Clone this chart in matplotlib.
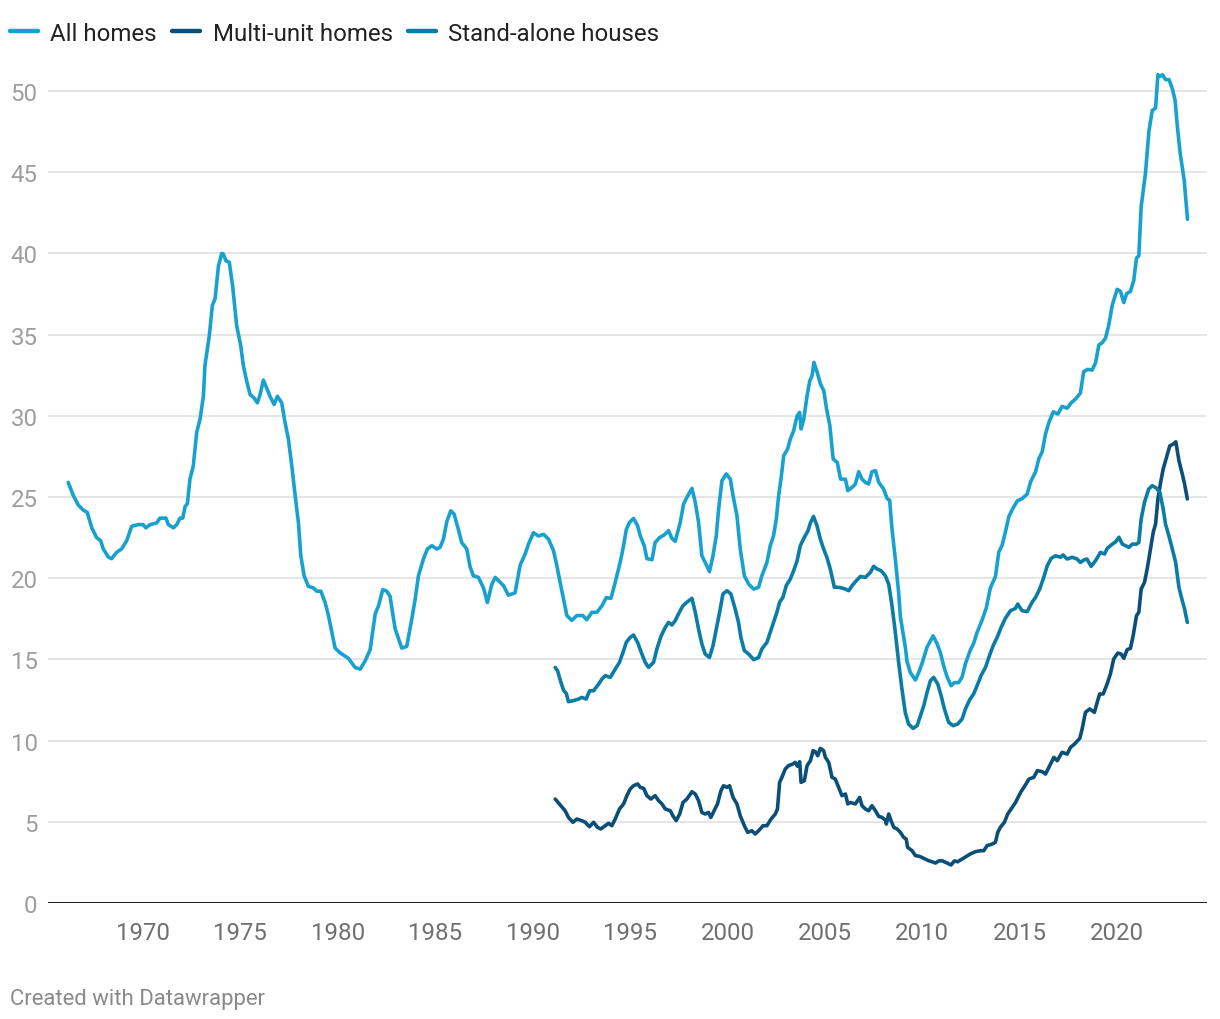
import matplotlib
matplotlib.use("Agg")
import matplotlib.pyplot as plt
from matplotlib.lines import Line2D

# ---------------- data ----------------
all_years = [1966.16,1966.42,1966.68,1966.93,1967.14,1967.37,1967.62,1967.83,1967.96,1968.22,1968.39,1968.65,1968.9,
 1969.16,1969.42,1969.76,1970.0,1970.15,1970.36,1970.7,1970.87,1971.18,1971.3,1971.56,1971.73,1971.9,1972.04,1972.16,
 1972.28,1972.41,1972.58,1972.76,1972.93,1973.1,1973.18,1973.4,1973.56,1973.7,1973.87,1974.04,1974.12,1974.26,1974.43,
 1974.6,1974.81,1975.02,1975.15,1975.33,1975.5,1975.7,1975.87,1976.01,1976.18,1976.35,1976.52,1976.73,1976.9,1977.12,
 1977.29,1977.46,1977.64,1977.81,1977.98,1978.1,1978.27,1978.49,1978.75,1978.92,1979.13,1979.35,1979.52,1979.69,1979.86,
 1980.12,1980.29,1980.54,1980.89,1981.15,1981.4,1981.66,1981.92,1982.09,1982.31,1982.51,1982.68,1982.94,1983.11,1983.28,
 1983.54,1983.8,1983.97,1984.14,1984.4,1984.6,1984.83,1985.08,1985.25,1985.42,1985.6,1985.8,1985.97,1986.19,1986.36,
 1986.62,1986.79,1986.96,1987.22,1987.48,1987.68,1987.9,1988.08,1988.33,1988.5,1988.76,1989.1,1989.36,1989.62,1989.79,
 1990.04,1990.3,1990.56,1990.82,1991.07,1991.24,1991.42,1991.59,1991.76,1992.01,1992.27,1992.58,1992.78,1993.04,1993.3,
 1993.56,1993.78,1994.02,1994.24,1994.5,1994.67,1994.81,1994.98,1995.18,1995.39,1995.53,1995.73,1995.87,1996.13,1996.29,
 1996.52,1996.75,1996.98,1997.15,1997.32,1997.58,1997.75,1997.92,1998.18,1998.35,1998.52,1998.69,1998.86,1999.08,1999.26,
 1999.43,1999.55,1999.72,1999.94,2000.15,2000.29,2000.49,2000.66,2000.87,2001.09,2001.35,2001.6,2001.77,2002.03,2002.2,
 2002.37,2002.51,2002.63,2002.75,2002.89,2003.09,2003.23,2003.4,2003.58,2003.71,2003.78,2003.92,2004.09,2004.23,2004.35,
 2004.44,2004.61,2004.78,2004.95,2005.09,2005.26,2005.43,2005.64,2005.81,2006.06,2006.18,2006.41,2006.57,2006.74,2006.91,
 2007.08,2007.25,2007.42,2007.6,2007.77,2008.02,2008.2,2008.33,2008.45,2008.62,2008.79,2008.88,2009.14,2009.22,2009.39,
 2009.65,2009.82,2009.99,2010.25,2010.56,2010.76,2010.93,2011.1,2011.28,2011.48,2011.65,2011.87,2012.05,2012.22,2012.47,
 2012.64,2012.82,2013.07,2013.29,2013.5,2013.76,2013.93,2014.1,2014.27,2014.45,2014.62,2014.88,2015.13,2015.39,2015.56,
 2015.82,2015.99,2016.16,2016.33,2016.5,2016.73,2016.96,2017.18,2017.44,2017.65,2017.86,2018.12,2018.29,2018.5,2018.72,
 2018.9,2019.07,2019.24,2019.41,2019.58,2019.76,2020.01,2020.18,2020.35,2020.49,2020.69,2020.86,2021.0,2021.12,2021.24,
 2021.46,2021.64,2021.81,2021.98,2022.1,2022.2,2022.33,2022.5,2022.67,2022.85,2022.98,2023.1,2023.24,2023.45,2023.62]
all_values = [25.9,25.1,24.5,24.2,24.05,23.1,22.5,22.3,21.8,21.3,21.2,21.6,21.8,
 22.3,23.2,23.3,23.3,23.1,23.3,23.4,23.7,23.7,23.3,23.1,23.3,23.7,23.7,24.4,
 24.6,26.1,26.9,29.0,29.8,31.2,33.1,34.9,36.8,37.2,39.2,40.0,39.96,39.55,39.45,
 38.0,35.55,34.3,33.1,32.1,31.3,31.1,30.8,31.3,32.2,31.7,31.2,30.7,31.2,30.8,
 29.6,28.6,26.9,25.1,23.4,21.4,20.15,19.5,19.4,19.2,19.2,18.5,17.7,16.7,15.7,
 15.4,15.27,15.07,14.5,14.4,14.9,15.6,17.8,18.3,19.3,19.2,18.9,16.9,16.3,15.7,
 15.8,17.5,18.7,20.15,21.2,21.8,22.0,21.8,21.9,22.4,23.5,24.15,23.95,23.0,22.2,
 21.8,20.7,20.15,20.05,19.4,18.5,19.6,20.05,19.75,19.55,18.95,19.1,20.8,21.5,22.1,
 22.8,22.6,22.7,22.4,21.7,20.8,19.7,18.7,17.7,17.4,17.7,17.7,17.44,17.9,17.9,
 18.3,18.8,18.76,19.74,21.0,22.0,23.0,23.44,23.68,23.23,22.6,22.0,21.2,21.14,22.2,
 22.5,22.66,22.93,22.45,22.27,23.44,24.56,24.98,25.53,24.67,23.44,21.38,20.97,20.4,21.38,
 22.62,24.26,26.0,26.42,26.1,25.08,23.85,21.8,20.15,19.64,19.33,19.44,20.15,20.97,22.0,
 22.62,23.64,25.08,26.1,27.54,27.95,28.57,29.08,30.0,30.21,29.19,29.8,31.23,32.16,32.47,
 33.29,32.67,31.95,31.54,30.42,29.39,27.34,27.13,26.1,26.1,25.39,25.6,25.8,26.56,26.1,
 25.9,25.8,26.56,26.62,25.9,25.49,24.9,24.8,23.03,21.18,19.13,17.63,15.7,14.88,14.19,
 13.73,14.19,14.74,15.76,16.45,15.98,15.43,14.61,13.92,13.38,13.57,13.57,13.92,14.74,15.57,
 15.98,16.67,17.41,18.17,19.41,20.1,21.6,22.02,22.84,23.8,24.22,24.76,24.9,25.18,25.92,
 26.55,27.37,27.78,28.88,29.57,30.25,30.11,30.58,30.47,30.8,31.02,31.4,32.72,32.86,32.81,
 33.27,34.37,34.5,34.78,35.6,36.83,37.79,37.66,36.97,37.52,37.66,38.34,39.71,39.85,42.87,
 44.92,47.52,48.8,48.96,51.0,50.9,51.0,50.7,50.7,50.1,49.45,47.8,46.2,44.5,42.1]

multi_years = [1991.16,1991.42,1991.67,1991.84,1992.07,1992.27,1992.53,1992.7,1992.92,1993.13,1993.33,1993.5,1993.73,
 1993.9,1994.07,1994.24,1994.46,1994.67,1994.84,1995.01,1995.18,1995.39,1995.53,1995.7,1995.87,1996.07,1996.29,1996.47,
 1996.64,1996.81,1997.07,1997.2,1997.37,1997.55,1997.72,1997.92,1998.18,1998.35,1998.52,1998.69,1998.86,1999.03,1999.15,
 1999.32,1999.49,1999.67,1999.8,1999.98,2000.11,2000.29,2000.49,2000.66,2000.87,2001.04,2001.26,2001.43,2001.6,2001.83,
 2002.03,2002.24,2002.46,2002.57,2002.68,2002.8,2002.97,2003.14,2003.36,2003.48,2003.6,2003.71,2003.78,2003.95,2004.09,
 2004.26,2004.4,2004.52,2004.64,2004.77,2004.94,2005.03,2005.2,2005.37,2005.54,2005.71,2005.88,2006.06,2006.18,2006.31,
 2006.57,2006.79,2006.91,2007.08,2007.25,2007.42,2007.6,2007.77,2007.94,2008.11,2008.16,2008.28,2008.4,2008.54,2008.71,
 2008.88,2009.05,2009.18,2009.25,2009.48,2009.65,2009.87,2010.08,2010.34,2010.51,2010.68,2010.85,2011.02,2011.28,2011.48,
 2011.65,2011.82,2012.05,2012.27,2012.47,2012.73,2012.99,2013.16,2013.33,2013.59,2013.76,2013.88,2014.01,2014.22,2014.39,
 2014.62,2014.79,2015.05,2015.22,2015.48,2015.73,2015.91,2016.16,2016.33,2016.5,2016.76,2016.93,2017.18,2017.44,2017.61,
 2017.82,2018.09,2018.21,2018.38,2018.6,2018.84,2018.98,2019.11,2019.29,2019.49,2019.66,2019.83,2020.04,2020.21,2020.35,
 2020.52,2020.69,2020.83,2021.0,2021.12,2021.24,2021.41,2021.55,2021.69,2021.86,2021.98,2022.1,2022.24,2022.37,2022.54,
 2022.71,2022.89,2023.02,2023.18,2023.35,2023.47,2023.61]
multi_values = [6.4,6.03,5.68,5.27,4.97,5.17,5.07,4.97,4.7,4.97,4.66,4.56,4.76,
 4.91,4.76,5.17,5.79,6.1,6.61,7.02,7.22,7.33,7.12,7.06,6.61,6.4,6.61,6.3,
 6.1,5.79,5.68,5.37,5.07,5.48,6.19,6.4,6.85,6.71,6.3,5.58,5.48,5.58,5.27,
 5.68,6.1,6.92,7.22,7.12,7.22,6.5,6.1,5.37,4.76,4.35,4.45,4.25,4.45,4.76,
 4.76,5.17,5.48,5.79,7.43,7.74,8.25,8.46,8.56,8.66,8.42,8.7,7.43,7.53,8.46,
 8.76,9.38,9.31,9.07,9.52,9.38,8.97,8.66,7.74,7.63,7.12,6.61,6.71,6.1,6.19,
 6.1,6.5,5.99,5.79,5.68,5.99,5.68,5.33,5.27,5.1,4.86,5.48,5.07,4.66,4.56,
 4.35,4.04,3.94,3.43,3.22,2.92,2.87,2.75,2.6,2.54,2.46,2.59,2.6,2.46,2.34,
 2.59,2.54,2.71,2.87,3.02,3.16,3.22,3.22,3.53,3.63,3.74,4.35,4.66,4.97,5.48,
 5.89,6.19,6.81,7.12,7.63,7.74,8.15,8.09,7.94,8.35,8.97,8.76,9.28,9.17,9.58,
 9.79,10.14,10.71,11.74,11.95,11.74,12.35,12.87,12.87,13.48,14.1,15.02,15.39,15.33,15.07,
 15.6,15.68,16.46,17.69,17.9,19.33,19.74,20.57,21.59,22.83,23.33,24.88,25.9,26.72,27.44,
 28.15,28.26,28.4,27.23,26.42,25.8,24.88]

stand_years = [1991.16,1991.28,1991.45,1991.59,1991.73,1991.84,1992.1,1992.36,1992.53,1992.75,1992.93,1993.13,1993.39,
 1993.56,1993.73,1993.99,1994.24,1994.46,1994.64,1994.81,1995.01,1995.18,1995.39,1995.61,1995.78,1995.95,1996.21,1996.38,
 1996.59,1996.81,1996.98,1997.15,1997.32,1997.49,1997.72,1997.92,1998.18,1998.35,1998.52,1998.69,1998.86,1999.08,1999.26,
 1999.43,1999.6,1999.77,1999.98,2000.18,2000.4,2000.57,2000.69,2000.87,2001.09,2001.35,2001.6,2001.77,2002.03,2002.2,
 2002.37,2002.54,2002.68,2002.85,2003.02,2003.23,2003.4,2003.58,2003.74,2003.95,2004.14,2004.26,2004.42,2004.6,2004.77,
 2004.94,2005.11,2005.28,2005.49,2005.71,2005.97,2006.23,2006.4,2006.62,2006.83,2007.08,2007.34,2007.51,2007.68,2007.89,
 2008.11,2008.28,2008.45,2008.62,2008.79,2008.96,2009.13,2009.3,2009.53,2009.74,2009.91,2010.08,2010.25,2010.42,2010.59,
 2010.8,2010.97,2011.14,2011.36,2011.59,2011.82,2012.05,2012.22,2012.44,2012.64,2012.85,2013.02,2013.25,2013.42,2013.64,
 2013.85,2014.05,2014.27,2014.53,2014.79,2014.9,2015.13,2015.39,2015.64,2015.82,2016.03,2016.24,2016.42,2016.62,2016.84,
 2017.1,2017.23,2017.44,2017.7,2017.95,2018.12,2018.33,2018.46,2018.67,2018.9,2019.15,2019.36,2019.5,2019.76,2019.93,
 2020.1,2020.27,2020.44,2020.61,2020.79,2021.0,2021.12,2021.24,2021.41,2021.63,2021.81,2022.03,2022.2,2022.37,2022.49,
 2022.66,2022.84,2023.01,2023.18,2023.35,2023.47,2023.61]
stand_values = [14.5,14.3,13.6,13.1,12.9,12.4,12.46,12.56,12.66,12.56,13.07,13.07,13.48,
 13.79,14.0,13.89,14.4,14.82,15.43,16.05,16.36,16.5,16.05,15.33,14.82,14.51,14.82,15.64,
 16.42,16.97,17.28,17.12,17.38,17.8,18.31,18.52,18.76,17.9,16.87,15.95,15.33,15.12,15.84,
 16.87,17.9,19.03,19.23,19.03,18.1,17.28,16.36,15.54,15.33,14.98,15.12,15.64,16.05,16.67,
 17.28,17.9,18.52,18.82,19.54,19.95,20.46,21.08,22.0,22.52,22.93,23.4,23.8,23.23,22.41,
 21.8,21.28,20.57,19.44,19.44,19.37,19.23,19.54,19.85,20.11,20.05,20.36,20.73,20.57,20.46,
 20.15,19.64,18.31,16.67,14.82,13.18,11.74,11.02,10.75,10.92,11.53,12.15,12.97,13.69,13.89,
 13.48,12.77,11.95,11.12,10.92,11.02,11.33,11.95,12.52,12.87,13.48,14.0,14.51,15.12,15.84,
 16.36,16.97,17.53,18.0,18.14,18.41,18.0,17.94,18.52,18.82,19.33,20.05,20.77,21.22,21.38,
 21.29,21.43,21.18,21.29,21.18,20.97,21.14,21.18,20.73,21.08,21.59,21.49,21.84,22.1,22.24,
 22.52,22.1,22.0,21.9,22.1,22.1,22.2,23.64,24.67,25.49,25.7,25.54,25.29,24.26,23.33,
 22.62,21.8,20.97,19.44,18.62,18.1,17.28]

series_names = ["All homes", "Multi-unit homes", "Stand-alone houses"]
series_colors = ["#18a1cf", "#0b4f78", "#0a7ca6"]
x_ticks = [1970, 1975, 1980, 1985, 1990, 1995, 2000, 2005, 2010, 2015, 2020]
y_ticks = [0, 5, 10, 15, 20, 25, 30, 35, 40, 45, 50]

# ---------------- figure ----------------
plt.rcParams['font.family'] = ['Roboto', 'DejaVu Sans']
W, H = 1220, 1020
fig = plt.figure(figsize=(W / 100, H / 100), dpi=100)
fig.patch.set_facecolor("white")

# axes placement in pixels
left_px, right_px = 48, 1207
y0_px, y50_px = 904, 92
ymax = 52.0
top_px = y0_px - (y0_px - y50_px) * ymax / 50.0
ax = fig.add_axes([left_px / W, 1 - y0_px / H, (right_px - left_px) / W, (y0_px - top_px) / H])
ax.set_facecolor("none")

ppy = (1117 - 143) / 50.0
x_left = 1970 - (143 - left_px) / ppy
x_right = 1970 + (right_px - 143) / ppy
ax.set_xlim(x_left, x_right)
ax.set_ylim(0, ymax)

for s in ax.spines.values():
    s.set_visible(False)

# gridlines
for yv in y_ticks[1:]:
    ax.axhline(yv, color="#e2e2e2", lw=1.2, zorder=1)
ax.axhline(0, color="#222222", lw=2.2, zorder=4)

lw = 2.6
ax.plot(all_years, all_values, color=series_colors[0], lw=lw, zorder=3,
        solid_joinstyle="round", solid_capstyle="round", clip_on=False)
ax.plot(multi_years, multi_values, color=series_colors[1], lw=lw, zorder=3,
        solid_joinstyle="round", solid_capstyle="round", clip_on=False)
ax.plot(stand_years, stand_values, color=series_colors[2], lw=lw, zorder=3,
        solid_joinstyle="round", solid_capstyle="round", clip_on=False)

ax.set_xticks(x_ticks)
ax.set_xticklabels([str(t) for t in x_ticks])
ax.set_yticks(y_ticks)
ax.set_yticklabels([str(t) for t in y_ticks])
ax.tick_params(axis="x", length=0, pad=13, labelsize=17.3, labelcolor="#707070")
ax.tick_params(axis="y", length=0, pad=7.5, labelsize=17.3, labelcolor="#9e9e9e")

# legend (manual, Datawrapper style)
leg_y = 1 - 32 / H
leg_items = [(10, 50), (172, 213), (408, 448)]
for (lx, tx), name, col in zip(leg_items, series_names, series_colors):
    fig.add_artist(Line2D([lx / W, (lx + 28) / W], [leg_y, leg_y], transform=fig.transFigure,
                          color=col, lw=3.2, solid_capstyle="round"))
    fig.text(tx / W, leg_y, name, ha="left", va="center_baseline", fontsize=17.3, color="#222222")

fig.text(10 / W, 1 - 997 / H, "Created with Datawrapper", ha="left", va="center_baseline",
         fontsize=15.9, color="#8a8a8a")

fig.savefig("out.png", dpi=100, facecolor="white")
